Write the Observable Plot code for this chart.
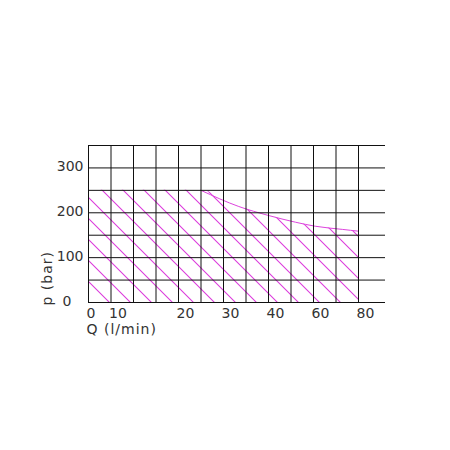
<!DOCTYPE html>
<html>
<head>
<meta charset="utf-8">
<script src="https://cdn.jsdelivr.net/npm/d3@7"></script>
<script src="https://cdn.jsdelivr.net/npm/@observablehq/plot@0.6"></script>
<style>
  html, body { margin: 0; padding: 0; background: #fff; }
</style>
</head>
<body>
<div id="chart"></div>
<script>
// Operating envelope boundary (Q in l/min, p in bar)
const qPts = [0, 25, 33.4, 40, 46, 50.4, 56.4, 60];
const pPts = [250, 250, 214, 194, 179, 170, 163, 159];

// Grid lines
const xGrid = [0, 5, 10, 15, 20, 25, 30, 35, 40, 45, 50, 55, 60];
const yGrid = [0, 50, 100, 150, 200, 250, 300, 350];

// Tick values and their printed labels (as printed on the sheet)
const xTickValues = [0, 5, 20, 30, 40, 50, 60];
const xTickLabels = ["0", "10", "20", "30", "40", "60", "80"];
const yTickValues = [0, 100, 200, 300];

const xDomain = [0, 66];
const yDomain = [0, 350];

const hatchColor = "#dd44dd";
const textColor = "#333";
const envelope = qPts.map((q, i) => ({q, p: pPts[i]}));

const plot = Plot.plot({
  width: 450,
  height: 450,
  marginLeft: 88,
  marginRight: 65,
  marginTop: 145,
  marginBottom: 148,
  style: {fontFamily: "DejaVu Sans", fontSize: "14px", color: textColor, background: "#fff"},
  x: {domain: xDomain},
  y: {domain: yDomain},
  marks: [
    Plot.areaY(envelope, {x: "q", y: "p", fill: "url(#hatch)", curve: "monotone-x"}),
    Plot.line(envelope.slice(1), {x: "q", y: "p", stroke: hatchColor, strokeWidth: 1, curve: "monotone-x"}),
    Plot.gridX(xGrid, {stroke: "#111", strokeOpacity: 1, strokeWidth: 1}),
    Plot.gridY(yGrid, {stroke: "#111", strokeOpacity: 1, strokeWidth: 1}),
    Plot.axisX(xTickValues, {
      tickSize: 0, tickPadding: 5.5, textAnchor: "start", dx: -2,
      tickFormat: d => xTickLabels[xTickValues.indexOf(d)], label: null, fill: textColor
    }),
    Plot.axisY(yTickValues.filter(d => d !== 0), {tickSize: 0, tickPadding: 5, dy: -1, label: null, fill: textColor}),
    Plot.axisY(yTickValues.filter(d => d === 0), {tickSize: 0, tickPadding: 17, dy: -1, label: null, fill: textColor}),
    Plot.text(["Q (l/min)"], {frameAnchor: "bottom-left", textAnchor: "start", dy: 31, dx: -2, fill: textColor, fontSize: 14}),
    Plot.text(["p (bar)"], {frameAnchor: "bottom-left", textAnchor: "start", rotate: -90, dx: -37, dy: 3, fill: textColor, fontSize: 14})
  ]
});

// Hatch pattern anchored at the origin of the chart
const xs = plot.scale("x"), ys = plot.scale("y");
const x0 = xs.apply(0), y0 = ys.apply(0);
const w = 14.85;
const defs = d3.select(plot).insert("defs", ":first-child");
const pat = defs.append("pattern")
  .attr("id", "hatch")
  .attr("patternUnits", "userSpaceOnUse")
  .attr("width", w)
  .attr("height", 10)
  .attr("patternTransform", `translate(${x0},${y0}) rotate(-45) translate(${-w / 2},0)`);
pat.append("line")
  .attr("x1", w / 2).attr("y1", -1)
  .attr("x2", w / 2).attr("y2", 11)
  .attr("stroke", hatchColor)
  .attr("stroke-width", 1);

// letter spacing on the axis titles
d3.select(plot).selectAll("text")
  .filter(function() { return this.textContent === "p (bar)" || this.textContent === "Q (l/min)"; })
  .attr("letter-spacing", "1px");

document.getElementById("chart").appendChild(plot);
</script>
</body>
</html>
